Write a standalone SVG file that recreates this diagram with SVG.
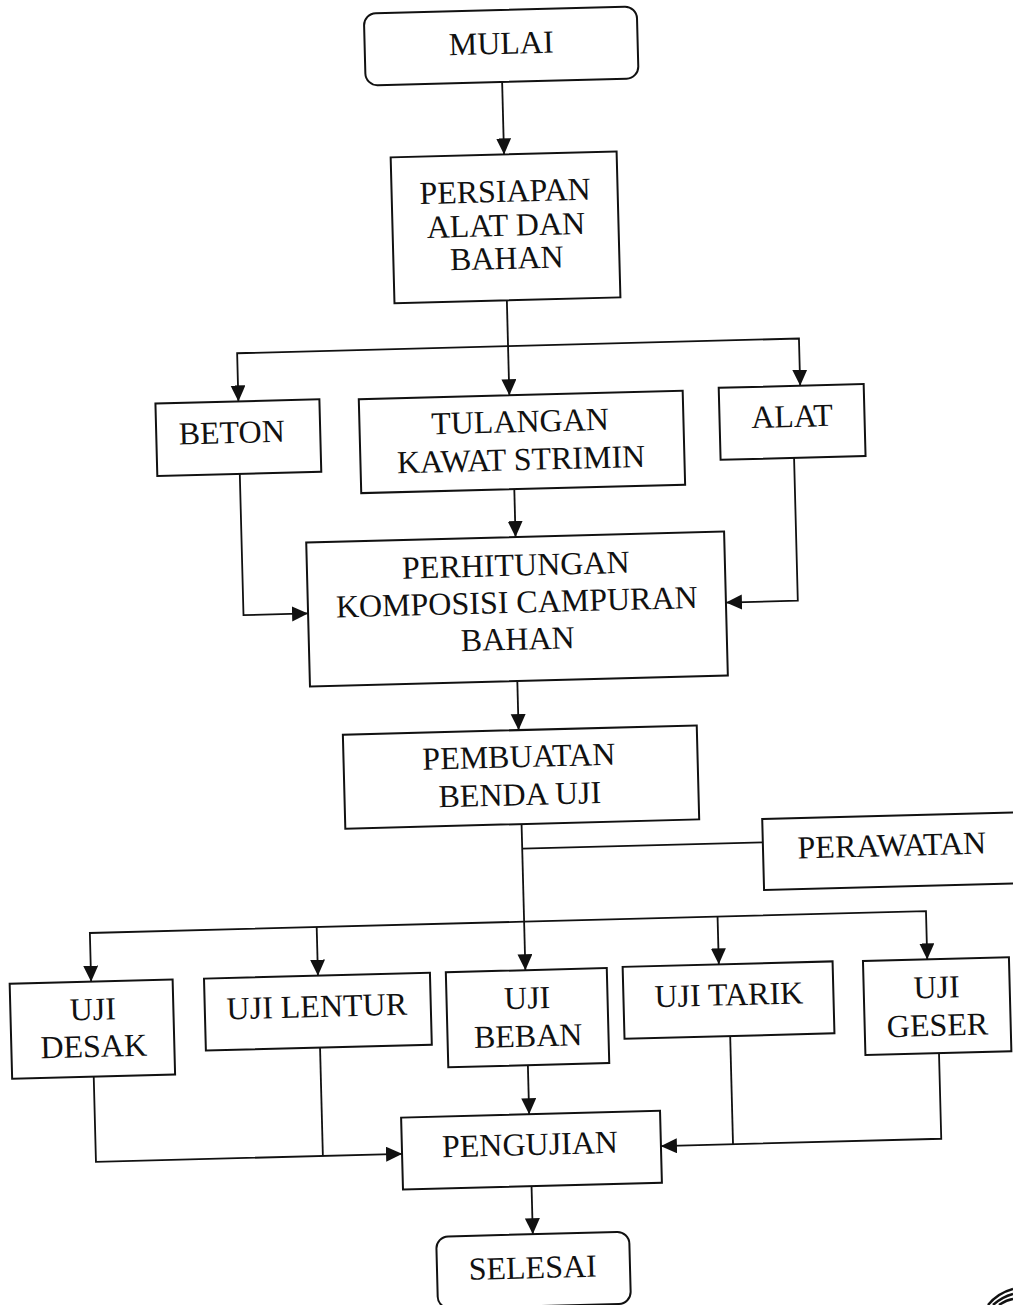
<svg xmlns="http://www.w3.org/2000/svg" width="1013" height="1305" viewBox="0 0 1013 1305">
<defs>
<marker id="ah" markerWidth="16" markerHeight="16" refX="16" refY="7.5" orient="auto" markerUnits="userSpaceOnUse"><path d="M0,0 L16,7.5 L0,15 Z" fill="#111"/></marker>
<style>
.box{fill:#fff;stroke:#111;stroke-width:2}
.ln{fill:none;stroke:#111;stroke-width:1.8}
.ar{fill:none;stroke:#111;stroke-width:1.8;marker-end:url(#ah)}
text{font-family:"Liberation Serif","Times New Roman",serif;font-size:32px;fill:#111;text-anchor:middle}
</style>
</defs>
<rect width="1013" height="1305" fill="#fff"/>
<g transform="rotate(-1.5 506 650)">
<g id="connectors">
<path class="ar" d="M517,82 V154.5"/>
<path class="ar" d="M516,300.5 V395.4"/>
<path class="ar" d="M516,346.3 H245 V394.5"/>
<path class="ar" d="M516,346.3 H807 V393.5"/>
<path class="ar" d="M518.5,489.4 V537.3"/>
<path class="ar" d="M244.5,467 V608.3 H309.1"/>
<path class="ar" d="M799,465.5 V608.3 H727.1"/>
<path class="ar" d="M516.5,681.3 V730.4"/>
<path class="ar" d="M517,824.4 V970.6"/>
<path class="ln" d="M517,849 H757.7"/>
<path class="ar" d="M517,922 H82.6 V970.7"/>
<path class="ar" d="M309.5,922 V970.6"/>
<path class="ar" d="M517,922 H919 V970.3"/>
<path class="ar" d="M710.5,922 V969.8"/>
<path class="ar" d="M517,1065.6 V1114.7"/>
<path class="ar" d="M82.7,1065.7 V1151 H388.9"/>
<path class="ln" d="M309.7,1042.6 V1151"/>
<path class="ar" d="M928.3,1064.3 V1150 H647.9"/>
<path class="ln" d="M720,1041.8 V1150"/>
<path class="ar" d="M517.5,1186.7 V1234.7"/>
</g>
<g id="mulai"><rect class="box" x="380.5" y="10" width="273" height="72" rx="12"/><text x="517" y="54">MULAI</text></g>
<g id="persiapan"><rect class="box" x="403.6" y="154.5" width="226" height="146"/><text x="517" y="202">PERSIAPAN</text><text x="517" y="236">ALAT DAN</text><text x="517" y="269">BAHAN</text></g>
<g id="beton"><rect class="box" x="162" y="394.5" width="164" height="72.5"/><text x="237.5" y="436">BETON</text></g>
<g id="tulangan"><rect class="box" x="365.4" y="395.4" width="324" height="94"/><text x="526" y="432.5">TULANGAN</text><text x="526" y="470.5">KAWAT STRIMIN</text></g>
<g id="alat"><rect class="box" x="725.5" y="393.5" width="145" height="72"/><text x="798" y="434.5">ALAT</text></g>
<g id="perhitungan"><rect class="box" x="309.1" y="537.3" width="418" height="144"/><text x="518" y="576">PERHITUNGAN</text><text x="518" y="613">KOMPOSISI CAMPURAN</text><text x="518" y="650">BAHAN</text></g>
<g id="pembuatan"><rect class="box" x="340.7" y="730.4" width="354" height="94"/><text x="516" y="767.5">PEMBUATAN</text><text x="516" y="805.5">BENDA UJI</text></g>
<g id="perawatan"><rect class="box" x="757.7" y="825.6" width="258" height="71"/><text x="886.6" y="866">PERAWATAN</text></g>
<g id="uji-desak"><rect class="box" x="1.1" y="970.7" width="163" height="95"/><text x="83.5" y="1009">UJI</text><text x="83.5" y="1046">DESAK</text></g>
<g id="uji-lentur"><rect class="box" x="195.5" y="970.6" width="226" height="72"/><text x="307.5" y="1012">UJI LENTUR</text></g>
<g id="uji-beban"><rect class="box" x="437.4" y="970.6" width="161" height="95"/><text x="518" y="1009">UJI</text><text x="518" y="1047">BEBAN</text></g>
<g id="uji-tarik"><rect class="box" x="614.3" y="969.8" width="210" height="72"/><text x="719.7" y="1011">UJI TARIK</text></g>
<g id="uji-geser"><rect class="box" x="854.7" y="970.3" width="146" height="94"/><text x="927.5" y="1009">UJI</text><text x="927.5" y="1047">GESER</text></g>
<g id="pengujian"><rect class="box" x="388.9" y="1114.7" width="259" height="72"/><text x="517" y="1155.5">PENGUJIAN</text></g>
<g id="selesai"><rect class="box" x="420.8" y="1234.7" width="193" height="72" rx="12"/><text x="516.5" y="1278.7">SELESAI</text></g>
</g>
<g id="corner-mark" fill="none" stroke="#111" stroke-width="2.5">
<path d="M988,1305 Q998,1293 1013,1289"/>
<path d="M993,1305 Q1002,1297 1013,1294"/>
<path d="M999,1305 Q1006,1300 1013,1299"/>
</g>
</svg>
